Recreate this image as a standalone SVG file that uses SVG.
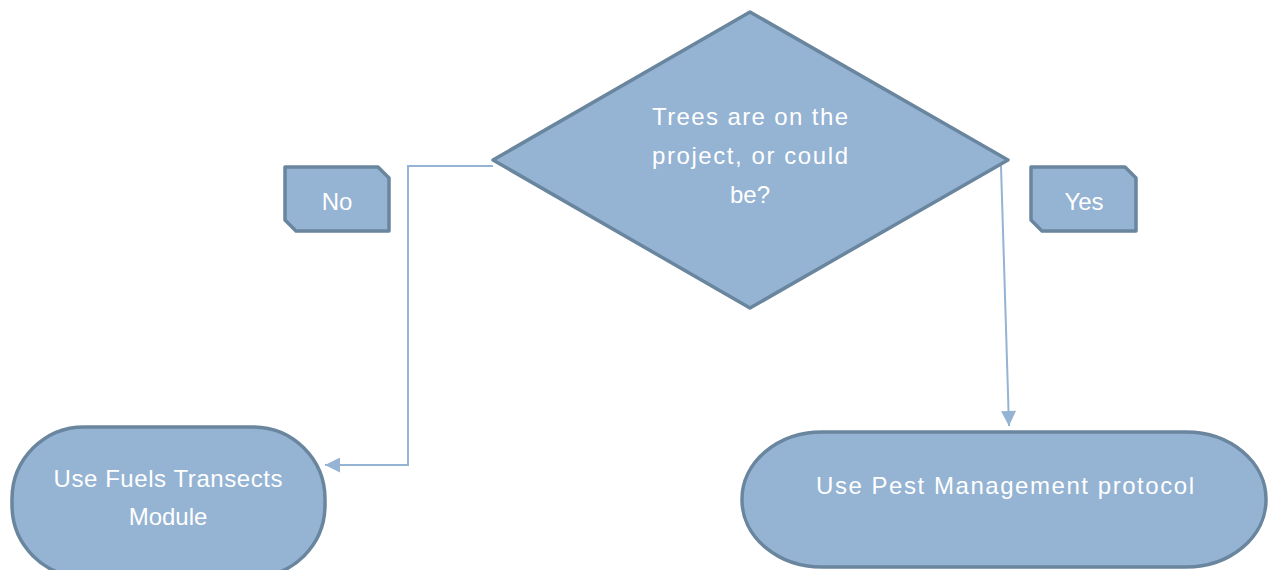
<svg xmlns="http://www.w3.org/2000/svg" width="1268" height="570" viewBox="0 0 1268 570">
<style>
.shape{fill:#95b3d3;stroke:#6a869f;stroke-width:3.5;stroke-linejoin:round}
.lbl{fill:#ffffff;font-family:"Century Gothic","Liberation Sans",sans-serif;font-size:24px;text-anchor:middle}
.conn{fill:none;stroke:#95b3d3;stroke-width:2}
</style>
<defs>
<marker id="arrL" viewBox="0 0 10 10" refX="10" refY="5" markerWidth="17" markerHeight="15" markerUnits="userSpaceOnUse" orient="auto">
<path d="M0,0 L10,5 L0,10 z" fill="#95b3d3"/>
</marker>
</defs>
<rect width="1268" height="570" fill="#ffffff"/>
<g id="connectors">
<polyline class="conn" points="493,166 408,166 408,465 325,465" marker-end="url(#arrL)"/>
<polyline class="conn" points="1001,166 1009,426" marker-end="url(#arrL)"/>
</g>
<g id="decision">
<polygon class="shape" points="750,12 1008,160 750,308 493,160"/>
<text class="lbl" x="750" y="125" textLength="196">Trees are on the</text>
<text class="lbl" x="750" y="164" textLength="196">project, or could</text>
<text class="lbl" x="750" y="203">be?</text>
</g>
<g id="no">
<polygon class="shape" points="285,167 378,167 389,178 389,231 296,231 285,220"/>
<text class="lbl" x="337" y="210">No</text>
</g>
<g id="yes">
<polygon class="shape" points="1031,167 1125,167 1136,178 1136,231 1042,231 1031,220"/>
<text class="lbl" x="1084" y="210">Yes</text>
</g>
<g id="fuels">
<rect class="shape" x="12" y="427" width="313" height="150" rx="72" ry="72"/>
<text class="lbl" x="168" y="487" textLength="229">Use Fuels Transects</text>
<text class="lbl" x="168" y="525">Module</text>
</g>
<g id="pest">
<rect class="shape" x="742" y="432" width="524" height="135" rx="80" ry="67"/>
<text class="lbl" x="1005" y="494" textLength="378">Use Pest Management protocol</text>
</g>
</svg>
